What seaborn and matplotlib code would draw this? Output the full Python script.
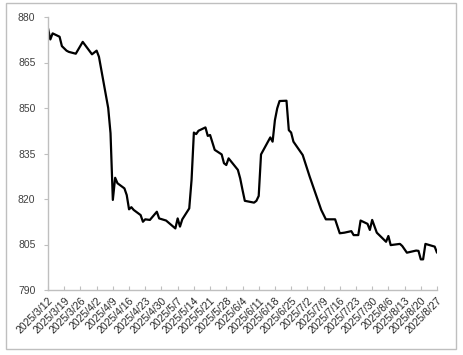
import pandas as pd
import seaborn as sns
import matplotlib.pyplot as plt
from matplotlib.patches import Rectangle

# datos
fechas = ["2025-03-12", "2025-03-13", "2025-03-14", "2025-03-17", "2025-03-18", "2025-03-20",
          "2025-03-21", "2025-03-24", "2025-03-27", "2025-03-31", "2025-04-02", "2025-04-03",
          "2025-04-07", "2025-04-08", "2025-04-09", "2025-04-10", "2025-04-11", "2025-04-14",
          "2025-04-15", "2025-04-16", "2025-04-17", "2025-04-18", "2025-04-21", "2025-04-22",
          "2025-04-23", "2025-04-25", "2025-04-28", "2025-04-29", "2025-05-02", "2025-05-06",
          "2025-05-07", "2025-05-08", "2025-05-09", "2025-05-12", "2025-05-13", "2025-05-14",
          "2025-05-15", "2025-05-16", "2025-05-19", "2025-05-20", "2025-05-21", "2025-05-23",
          "2025-05-26", "2025-05-27", "2025-05-28", "2025-05-29", "2025-06-02", "2025-06-03",
          "2025-06-04", "2025-06-05", "2025-06-09", "2025-06-10", "2025-06-11", "2025-06-12",
          "2025-06-16", "2025-06-17", "2025-06-18", "2025-06-19", "2025-06-20", "2025-06-23",
          "2025-06-24", "2025-06-25", "2025-06-26", "2025-06-30", "2025-07-03", "2025-07-07",
          "2025-07-08", "2025-07-10", "2025-07-14", "2025-07-16", "2025-07-18", "2025-07-21",
          "2025-07-22", "2025-07-24", "2025-07-25", "2025-07-28", "2025-07-29", "2025-07-30",
          "2025-08-01", "2025-08-05", "2025-08-06", "2025-08-07", "2025-08-11", "2025-08-12",
          "2025-08-14", "2025-08-18", "2025-08-19", "2025-08-20", "2025-08-21", "2025-08-22",
          "2025-08-26", "2025-08-27"]
valores = [876.3, 872.6, 874.6, 873.5, 870.4, 868.9,
           868.5, 867.9, 871.8, 867.7, 868.9, 866.9,
           850.0, 841.7, 819.7, 827.0, 825.2, 823.5,
           821.3, 816.6, 817.3, 816.4, 814.7, 812.5,
           813.3, 813.1, 815.8, 813.6, 812.9, 810.3,
           813.6, 810.9, 813.3, 816.9, 826.3, 841.9,
           841.4, 842.5, 843.6, 840.8, 841.1, 836.2,
           834.7, 831.8, 831.2, 833.4, 829.6, 826.8,
           823.0, 819.4, 818.8, 819.4, 821.0, 834.7,
           840.3, 838.9, 846.0, 849.9, 852.3, 852.4,
           842.7, 841.9, 838.9, 834.5, 827.4, 818.6,
           816.4, 813.3, 813.3, 808.7, 808.9, 809.4,
           808.1, 808.1, 812.9, 811.8, 809.8, 813.1,
           808.9, 805.9, 807.8, 804.8, 805.2, 804.5,
           802.3, 803.0, 802.9, 800.1, 800.1, 805.2,
           804.3, 802.3]
y_ticks = [790, 805, 820, 835, 850, 865, 880]

df = pd.DataFrame({"fecha": pd.to_datetime(fechas), "valor": valores})
x_ticks = pd.date_range("2025-03-12", "2025-08-27", freq="7D")
x_labels = [f"{d.year}/{d.month}/{d.day}" for d in x_ticks]

sns.set_style("white")
plt.rcParams["font.family"] = ["Liberation Sans", "DejaVu Sans"]

fig = plt.figure(figsize=(4.63, 3.55), dpi=100)
ax = fig.add_axes([48 / 463, 65 / 355, 389 / 463, 273 / 355])
sns.lineplot(data=df, x="fecha", y="valor", color="black", linewidth=1.6, ax=ax)

ax.set_xlim(x_ticks[0], x_ticks[-1])
ax.set_ylim(790, 880)
ax.set_yticks(y_ticks)
ax.set_xticks(x_ticks)
ax.set_xticklabels(x_labels, rotation=45, ha="right", rotation_mode="anchor")
ax.set_xlabel("")
ax.set_ylabel("")
ax.tick_params(axis="x", direction="in", length=3, color="#bfbfbf", labelsize=7.5,
               labelcolor="#262626", pad=4)
ax.tick_params(axis="y", direction="out", length=3, color="#bfbfbf", labelsize=7.5,
               labelcolor="#404040", pad=6)
ax.tick_params(axis="both", bottom=True, left=True)
for lado in ["top", "right"]:
    ax.spines[lado].set_visible(False)
for lado in ["left", "bottom"]:
    ax.spines[lado].set_color("#bfbfbf")
    ax.spines[lado].set_linewidth(1)

# marco del grafico
fig.patches.append(Rectangle((6 / 463, 6 / 355), 450 / 463, 346 / 355, transform=fig.transFigure,
                             fill=False, edgecolor="#bfbfbf", linewidth=1))

plt.savefig("out.png", dpi=100)
